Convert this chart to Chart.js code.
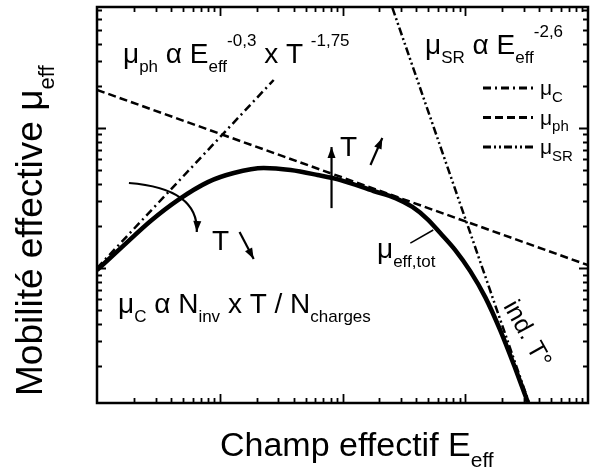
<!DOCTYPE html>
<html>
<head>
<meta charset="utf-8">
<script src="https://cdn.jsdelivr.net/npm/chart.js@4/dist/chart.umd.min.js"></script>
<style>
  html, body { margin: 0; padding: 0; background: #fff; }
  canvas { display: block; }
</style>
</head>
<body>
<canvas id="mob-chart" width="592" height="470"></canvas>
<script>
// axis ranges (arbitrary units, log-log)
const xRange = [1, 10000];
const yRange = [10.9, 7300];

// mu_C : coulomb scattering
const muCX = [1, 27.5];
const muCY = [100, 2200];
// mu_ph : phonons
const muPhX = [1, 10000];
const muPhY = [1870, 105];
// mu_SR : surface roughness
const muSrX = [255, 3310];
const muSrY = [7200, 10.9];
// total effective mobility
const muTotX = [1, 1.66, 2.75, 4.56, 8.0, 13.0, 22.8, 37.8, 62.6, 96.4, 179, 270, 371, 491, 626, 829, 1098, 1454, 1926, 2551, 3251];
const muTotY = [96.8, 146, 218, 306, 411, 477, 518, 501, 462, 425, 355, 316, 273, 224, 178, 134.5, 95.2, 62.1, 36.1, 19.3, 10.9];

const legendLabels = [["μ", "C"], ["μ", "ph"], ["μ", "SR"]];

const FONT = '"Liberation Sans", Arial, Helvetica, sans-serif';

function pts(xs, ys) {
    return xs.map((x, i) => ({ x: x, y: ys[i] }));
}

// draws text made of normal / sub / sup pieces, returns end x
function richText(ctx, x, y, parts, size, subSize) {
    ctx.textBaseline = "alphabetic";
    ctx.textAlign = "left";
    parts.forEach(p => {
        let t = p[0], mode = p[1] || "n";
        let fs = mode === "n" ? size : subSize;
        let dy = mode === "sub" ? size * 0.33 : (mode === "sup" ? -size * 0.62 : 0);
        ctx.font = fs + "px " + FONT;
        ctx.fillText(t, x, y + dy);
        x += ctx.measureText(t).width;
    });
    return x;
}

function arrowHead(ctx, x1, y1, x2, y2, len, wid) {
    const a = Math.atan2(y2 - y1, x2 - x1);
    ctx.beginPath();
    ctx.moveTo(x2, y2);
    ctx.lineTo(x2 - len * Math.cos(a) + wid * Math.sin(a), y2 - len * Math.sin(a) - wid * Math.cos(a));
    ctx.lineTo(x2 - len * Math.cos(a) - wid * Math.sin(a), y2 - len * Math.sin(a) + wid * Math.cos(a));
    ctx.closePath();
    ctx.fill();
}

// annotation arrows, in data units
const arrows = [
    [[81.4, 268], [81.4, 731]],
    [[169, 544], [211, 849]],
    [[14.5, 181], [18.9, 116]]
];
const curvedArrow = [[1.82, 405], [6.75, 370], [6.5, 181]];
const leader = [[357, 151], [549, 187]];

const decorPlugin = {
    id: "decor",
    afterDraw(chart) {
        const ctx = chart.ctx;
        const xs = chart.scales.x, ys = chart.scales.y;
        const a = chart.chartArea;
        const P = d => [xs.getPixelForValue(d[0]), ys.getPixelForValue(d[1])];
        ctx.save();
        ctx.fillStyle = "#000";
        ctx.strokeStyle = "#000";

        // frame
        ctx.lineWidth = 2.5;
        ctx.strokeRect(a.left, a.top, a.right - a.left, a.bottom - a.top);

        // inward log ticks on all sides
        ctx.lineWidth = 1.8;
        function logTicks(min, max, cb) {
            for (let n = Math.floor(Math.log10(min)); n <= Math.ceil(Math.log10(max)); n++) {
                for (let k = 1; k <= 9; k++) {
                    const v = k * Math.pow(10, n);
                    if (v > min * 1.001 && v < max * 0.999) cb(v, k === 1);
                }
            }
        }
        logTicks(xs.min, xs.max, (v, major) => {
            const px = Math.round(xs.getPixelForValue(v)) + 0.5;
            const l = major ? 9 : 5;
            ctx.beginPath();
            ctx.moveTo(px, a.bottom); ctx.lineTo(px, a.bottom - l);
            ctx.moveTo(px, a.top); ctx.lineTo(px, a.top + l);
            ctx.stroke();
        });
        logTicks(ys.min, ys.max, (v, major) => {
            const py = Math.round(ys.getPixelForValue(v)) + 0.5;
            const l = major ? 9 : 5;
            ctx.beginPath();
            ctx.moveTo(a.left, py); ctx.lineTo(a.left + l, py);
            ctx.moveTo(a.right, py); ctx.lineTo(a.right - l, py);
            ctx.stroke();
        });

        // arrows
        ctx.lineWidth = 2.2;
        ctx.setLineDash([]);
        arrows.forEach(ar => {
            const p1 = P(ar[0]), p2 = P(ar[1]);
            ctx.beginPath();
            ctx.moveTo(p1[0], p1[1]); ctx.lineTo(p2[0], p2[1]);
            ctx.stroke();
            arrowHead(ctx, p1[0], p1[1], p2[0], p2[1], 11, 4);
        });
        const c0 = P(curvedArrow[0]), c1 = P(curvedArrow[1]), c2 = P(curvedArrow[2]);
        ctx.beginPath();
        ctx.moveTo(c0[0], c0[1]);
        ctx.quadraticCurveTo(c1[0], c1[1], c2[0], c2[1]);
        ctx.stroke();
        arrowHead(ctx, c1[0], c1[1], c2[0], c2[1], 11, 4);
        const l0 = P(leader[0]), l1 = P(leader[1]);
        ctx.lineWidth = 1.5;
        ctx.beginPath();
        ctx.moveTo(l0[0], l0[1]); ctx.lineTo(l1[0], l1[1]);
        ctx.stroke();

        // labels
        richText(ctx, 123, 63, [["μ"], ["ph", "sub"], [" α E"], ["eff", "sub"], ["-0,3", "sup"], [" x T "], ["-1,75", "sup"]], 28, 17);
        richText(ctx, 425, 54, [["μ"], ["SR", "sub"], [" α E"], ["eff", "sub"], ["-2,6", "sup"]], 28, 17);
        richText(ctx, 118, 313, [["μ"], ["C", "sub"], [" α N"], ["inv", "sub"], [" x T / N"], ["charges", "sub"]], 28, 17);
        richText(ctx, 377, 258, [["μ"], ["eff,tot", "sub"]], 28, 17);
        richText(ctx, 340, 156, [["T"]], 28, 17);
        richText(ctx, 212, 250, [["T"]], 28, 17);

        ctx.save();
        ctx.translate(503, 306);
        ctx.rotate(61 * Math.PI / 180);
        ctx.font = "25px " + FONT;
        ctx.fillText("ind. T°", 0, 0);
        ctx.restore();

        // legend, styled from the datasets
        chart.data.datasets.slice(0, 3).forEach((ds, i) => {
            const y = 88 + i * 29.5;
            ctx.lineWidth = 3;
            ctx.setLineDash(ds.borderDash || []);
            ctx.beginPath();
            ctx.moveTo(483, y); ctx.lineTo(533, y);
            ctx.stroke();
            ctx.setLineDash([]);
            richText(ctx, 540, y + 7, [[legendLabels[i][0]], [legendLabels[i][1], "sub"]], 21, 15);
        });

        // axis titles
        richText(ctx, 220, 456, [["Champ effectif E"], ["eff", "sub"]], 34, 21);
        ctx.save();
        ctx.translate(42, 396);
        ctx.rotate(-Math.PI / 2);
        richText(ctx, 0, 0, [["Mobilité effective μ"], ["eff", "sub"]], 37, 22);
        ctx.restore();

        ctx.restore();
    }
};

const ctx = document.getElementById("mob-chart").getContext("2d");

new Chart(ctx, {
    type: "scatter",
    data: {
        datasets: [
            { label: "μC", data: pts(muCX, muCY), showLine: true, borderColor: "#000", borderWidth: 2.5, borderDash: [8, 4, 2, 4], pointRadius: 0 },
            { label: "μph", data: pts(muPhX, muPhY), showLine: true, borderColor: "#000", borderWidth: 2.5, borderDash: [8, 4], pointRadius: 0 },
            { label: "μSR", data: pts(muSrX, muSrY), showLine: true, borderColor: "#000", borderWidth: 2.5, borderDash: [8, 3, 2, 3, 2, 3], pointRadius: 0 },
            { label: "μeff,tot", data: pts(muTotX, muTotY), showLine: true, borderColor: "#000", borderWidth: 4.5, cubicInterpolationMode: "monotone", pointRadius: 0 }
        ]
    },
    options: {
        responsive: false,
        animation: false,
        devicePixelRatio: 1,
        layout: { padding: { left: 97, right: 4, top: 7, bottom: 67 } },
        scales: {
            x: { type: "logarithmic", min: xRange[0], max: xRange[1], display: false },
            y: { type: "logarithmic", min: yRange[0], max: yRange[1], display: false }
        },
        plugins: {
            legend: { display: false },
            tooltip: { enabled: false }
        }
    },
    plugins: [decorPlugin]
});
</script>
</body>
</html>
